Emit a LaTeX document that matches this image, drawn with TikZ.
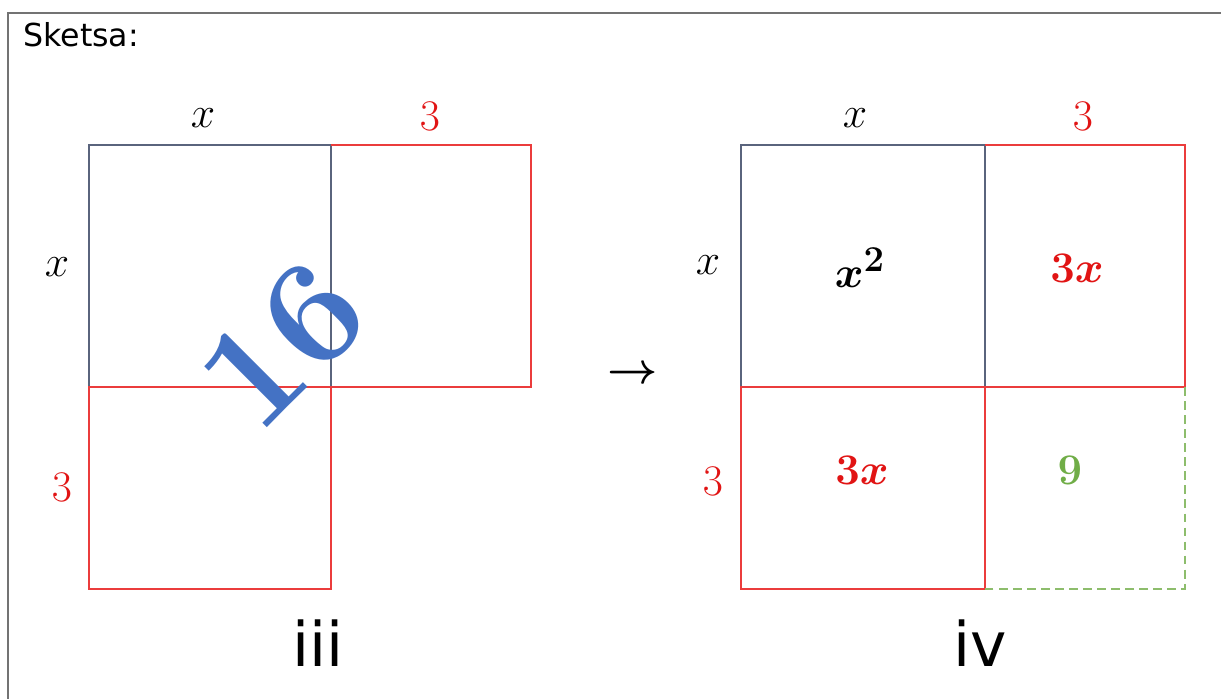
\documentclass[tikz,border=0pt]{standalone}
\usepackage{amsmath,amssymb}
\usepackage{bm}
\usepackage{fontspec}
\newfontfamily\sketfont{DejaVu Sans}
\usepackage{tikz}
\usetikzlibrary{
	arrows.meta,
	positioning,
	calc
}
\definecolor{sqgray}{RGB}{90,100,125}
\definecolor{sqred}{RGB}{235,60,60}
\definecolor{lblred}{RGB}{225,20,20}
\definecolor{sqgreen}{RGB}{112,173,71}
\definecolor{bignum}{RGB}{68,114,196}

\begin{document}
\begin{tikzpicture}[
				x=0.02cm, y=-0.02cm,
				frame/.style={draw=gray!90!black, line width=1.1pt},
				graysq/.style={draw=sqgray, line width=0.6pt},
				redsq/.style={draw=sqred, line width=0.6pt},
				greensq/.style={draw=sqgreen!80, line width=0.6pt, dash pattern=on 5pt off 3pt},
				side/.style={
					inner sep=0pt, font=\fontsize{25}{28}\selectfont
				},
				redside/.style={
					side, text=lblred
				},
				area/.style={
					inner sep=0pt, font=\fontsize{31}{34}\selectfont
				},
				roman/.style={
					inner sep=0pt, font=\sketfont\fontsize{35}{40}\selectfont
				},
				]
				\useasboundingbox (0,0) rectangle (1221,699);
				
				%frame
				\draw[frame] (8,699) -- (8,13) -- (1221,13);
				\node[anchor=base west, inner sep=0pt, font=\sketfont\fontsize{18}{20}\selectfont] (title) at (23,47) {Sketsa:};
				
				%first set
				\draw[graysq] (89,145) rectangle (331,387);
				\draw[redsq] (331,145) -- (531,145) -- (531,387) -- (331,387);
				\draw[redsq] (89,387) -- (331,387) -- (331,589) -- (89,589) -- cycle;
				
				\node[side] (topx) at (203,118) {$x$};
				\node[redside] (topthree) at (430,116) {$3$};
				\node[side] (leftx) at (57,267) {$x$};
				\node[redside] (leftthree) at (62,487) {$3$};
				
				\node[inner sep=0pt, rotate=45, text=bignum, font=\fontsize{84}{90}\selectfont\bfseries] (total) at (283,345) {16};
				
				\node[roman] (third) at (318,643) {iii};
				
				%arrow
				\node[inner sep=0pt, font=\fontsize{46}{50}\selectfont] (step) at (633,375) {$\boldsymbol{\rightarrow}$};
				
				%2. set
				\draw[graysq] (741,145) rectangle (985,387);
				\draw[redsq] (985,145) -- (1185,145) -- (1185,387) -- (985,387);
				\draw[redsq] (741,387) -- (985,387) -- (985,589) -- (741,589) -- cycle;
				\draw[greensq] (1185,387) -- (1185,589) -- (985,589);
				
				\node[side] (topxr) at (855,118) {$x$};
				\node[redside] (topthreer) at (1083,116) {$3$};
				\node[side] (leftxr) at (708,265) {$x$};
				\node[redside] (leftthreer) at (713,481) {$3$};
				
				\node[area] (square) at (860,268) {$\bm{x^2}$};
				\node[area, text=lblred] (stripa) at (1077,268) {$\bm{3x}$};
				\node[area, text=lblred] (stripb) at (862,470) {$\bm{3x}$};
				\node[area, text=sqgreen, font=\fontsize{34}{38}\selectfont] (corner) at (1070,470) {$\bm{9}$};
				
				\node[roman] (fourth) at (980,643) {iv};
			\end{tikzpicture}
\end{document}
